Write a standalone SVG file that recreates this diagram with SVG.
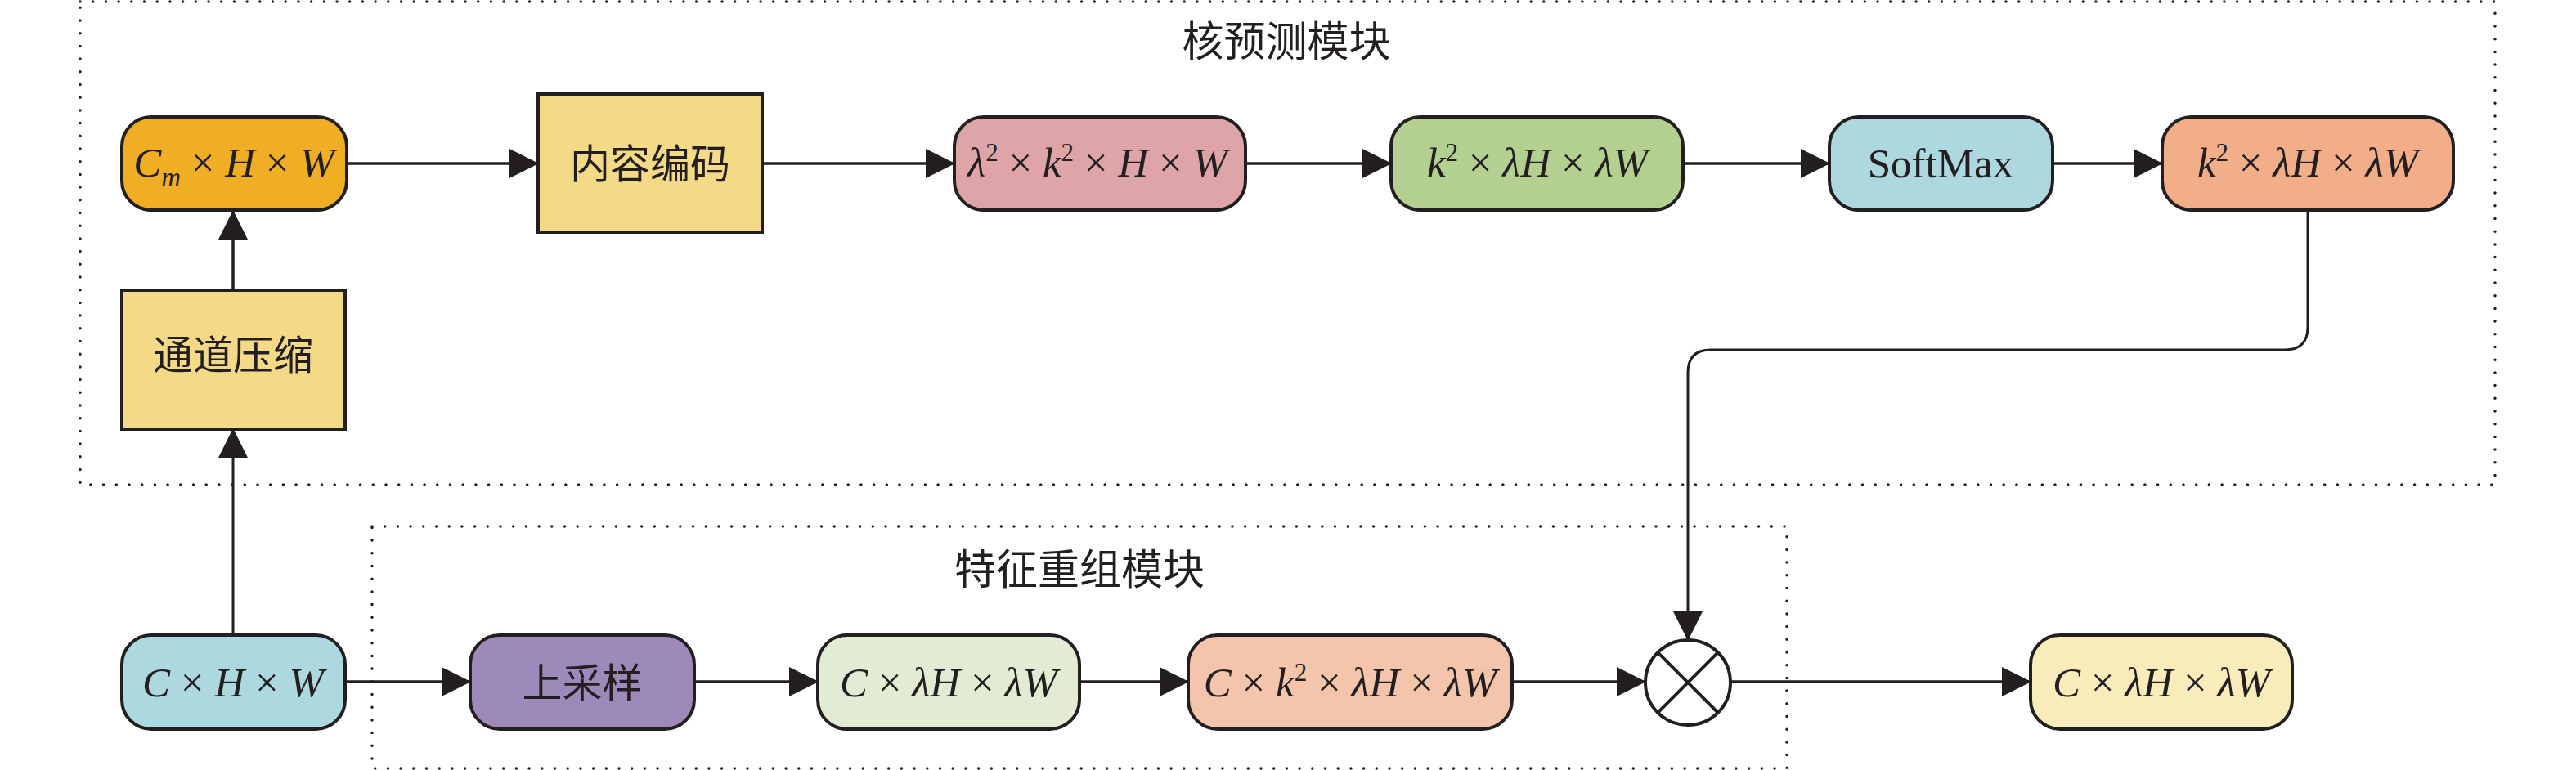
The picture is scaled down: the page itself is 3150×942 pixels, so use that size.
<svg xmlns="http://www.w3.org/2000/svg" width="3150" height="942" viewBox="0 0 3150 942">
<style>
.bg{fill:#ffffff}
.frame{fill:none;stroke:#231F20;stroke-width:3.5;stroke-dasharray:0 15.7;stroke-linecap:round}
.node{stroke:#231F20;stroke-width:4}
.con{fill:none;stroke:#231F20;stroke-width:3.5}
.thin{fill:none;stroke:#231F20;stroke-width:3}
.math{font-family:"Liberation Serif","Times New Roman",serif;font-size:51px;fill:#231F20}
.it{font-style:italic}
.cjk{font-family:"Noto Sans CJK SC","Noto Sans CJK JP",sans-serif;font-size:49px;fill:#231F20}
.title{font-family:"Noto Sans CJK SC","Noto Sans CJK JP",sans-serif;font-size:51px;fill:#231F20}
</style>
<defs>
<marker id="ah" markerWidth="36" markerHeight="36" refX="35" refY="18" orient="auto" markerUnits="userSpaceOnUse">
<path d="M0,0 L36,18 L0,36 Z" fill="#231F20"/>
</marker>
</defs>
<rect class="bg" x="0" y="0" width="3150" height="942"/>

<g id="kernel-prediction-module">
<rect class="frame" x="98" y="2" width="2953" height="591"/>
<text class="title" x="1573" y="69" text-anchor="middle">核预测模块</text>
</g>
<g id="feature-reassembly-module">
<rect class="frame" x="455" y="644" width="1730" height="296"/>
<text class="title" x="1320" y="715" text-anchor="middle">特征重组模块</text>
</g>

<g id="connectors">
<path class="con" d="M424,200 H658" marker-end="url(#ah)"/>
<path class="con" d="M932,200 H1167" marker-end="url(#ah)"/>
<path class="con" d="M1523,200 H1701" marker-end="url(#ah)"/>
<path class="con" d="M2058,200 H2237" marker-end="url(#ah)"/>
<path class="con" d="M2510,200 H2644" marker-end="url(#ah)"/>
<path class="con" d="M285,355 V258" marker-end="url(#ah)"/>
<path class="thin" d="M285,777 V525" marker-end="url(#ah)"/>
<path class="thin" d="M2822,258 V400 Q2822,428 2794,428 H2092 Q2064,428 2064,456 V783" marker-end="url(#ah)"/>
<path class="con" d="M422,834 H575" marker-end="url(#ah)"/>
<path class="con" d="M849,834 H1000" marker-end="url(#ah)"/>
<path class="con" d="M1320,834 H1453" marker-end="url(#ah)"/>
<path class="con" d="M1849,834 H2012" marker-end="url(#ah)"/>
<path class="con" d="M2116,834 H2483" marker-end="url(#ah)"/>
</g>

<g id="n-cm">
<rect class="node" x="149" y="143" width="275" height="114" rx="36" fill="#F0AE24"/>
<text class="math" x="286" y="216" text-anchor="middle"><tspan class="it">C</tspan><tspan class="it" font-size="33" dy="12">m</tspan><tspan dy="-12"> × </tspan><tspan class="it">H</tspan> × <tspan class="it">W</tspan></text>
</g>
<g id="n-content-encode">
<rect class="node" x="658" y="115" width="274" height="169" fill="#F4D986"/>
<text class="cjk" x="795" y="218" text-anchor="middle">内容编码</text>
</g>
<g id="n-channel-compress">
<rect class="node" x="149" y="355" width="273" height="170" fill="#F4D986"/>
<text class="cjk" x="285" y="452" text-anchor="middle">通道压缩</text>
</g>
<g id="n-lambda2">
<rect class="node" x="1167" y="143" width="356" height="114" rx="36" fill="#DEA5A9"/>
<text class="math" x="1342" y="216" text-anchor="middle"><tspan class="it">λ</tspan><tspan font-size="31" dy="-19">2</tspan><tspan dy="19"> × </tspan><tspan class="it">k</tspan><tspan font-size="31" dy="-19">2</tspan><tspan dy="19"> × </tspan><tspan class="it">H</tspan> × <tspan class="it">W</tspan></text>
</g>
<g id="n-k2-green">
<rect class="node" x="1701" y="143" width="357" height="114" rx="36" fill="#B3D090"/>
<text class="math" x="1880" y="216" text-anchor="middle"><tspan class="it">k</tspan><tspan font-size="31" dy="-19">2</tspan><tspan dy="19"> × </tspan><tspan class="it">λH</tspan> × <tspan class="it">λW</tspan></text>
</g>
<g id="n-softmax">
<rect class="node" x="2237" y="143" width="273" height="114" rx="36" fill="#ADD8DF"/>
<text class="math" x="2373" y="217" text-anchor="middle">SoftMax</text>
</g>
<g id="n-k2-orange">
<rect class="node" x="2644" y="143" width="356" height="114" rx="36" fill="#F1AE88"/>
<text class="math" x="2822" y="216" text-anchor="middle"><tspan class="it">k</tspan><tspan font-size="31" dy="-19">2</tspan><tspan dy="19"> × </tspan><tspan class="it">λH</tspan> × <tspan class="it">λW</tspan></text>
</g>
<g id="n-chw">
<rect class="node" x="149" y="777" width="273" height="115" rx="36" fill="#ADD8DF"/>
<text class="math" x="285" y="852" text-anchor="middle"><tspan class="it">C</tspan> × <tspan class="it">H</tspan> × <tspan class="it">W</tspan></text>
</g>
<g id="n-upsample">
<rect class="node" x="575" y="777" width="274" height="115" rx="36" fill="#9E8ABA"/>
<text class="cjk" x="712" y="853" text-anchor="middle">上采样</text>
</g>
<g id="n-c-lh-lw">
<rect class="node" x="1000" y="777" width="320" height="115" rx="36" fill="#E2ECD5"/>
<text class="math" x="1160" y="852" text-anchor="middle"><tspan class="it">C</tspan> × <tspan class="it">λH</tspan> × <tspan class="it">λW</tspan></text>
</g>
<g id="n-c-k2">
<rect class="node" x="1453" y="777" width="396" height="115" rx="36" fill="#F4C5AA"/>
<text class="math" x="1651" y="852" text-anchor="middle"><tspan class="it">C</tspan> × <tspan class="it">k</tspan><tspan font-size="31" dy="-19">2</tspan><tspan dy="19"> × </tspan><tspan class="it">λH</tspan> × <tspan class="it">λW</tspan></text>
</g>
<g id="n-multiply">
<circle class="node" cx="2064" cy="835" r="52" fill="#ffffff"/>
<path class="node" d="M2027.2,798.2 L2100.8,871.8 M2100.8,798.2 L2027.2,871.8" fill="none"/>
</g>
<g id="n-output">
<rect class="node" x="2483" y="777" width="320" height="115" rx="36" fill="#FAEBBB"/>
<text class="math" x="2643" y="852" text-anchor="middle"><tspan class="it">C</tspan> × <tspan class="it">λH</tspan> × <tspan class="it">λW</tspan></text>
</g>
</svg>
